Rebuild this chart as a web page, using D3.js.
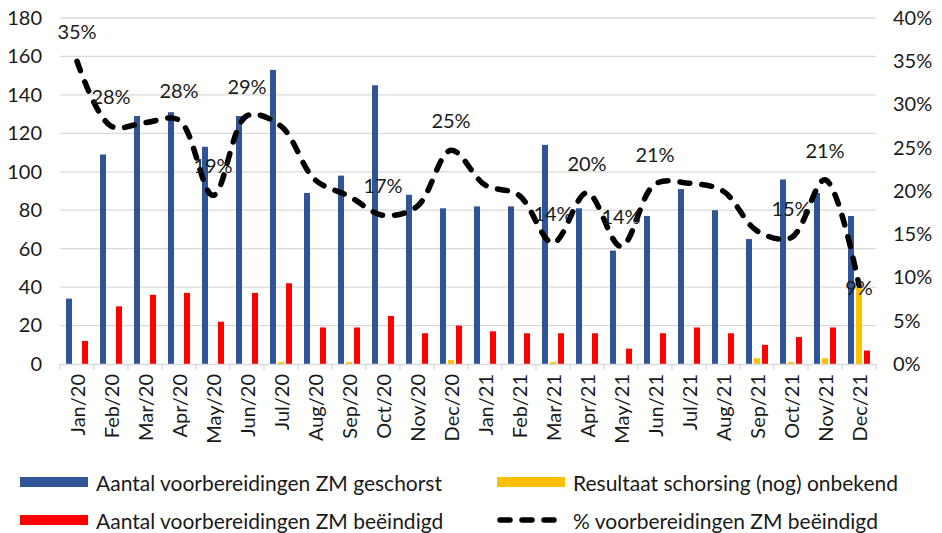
<!DOCTYPE html>
<html>
<head>
<meta charset="utf-8">
<script src="https://cdn.jsdelivr.net/npm/d3@7"></script>
<style>
  html, body { margin: 0; padding: 0; background: #fff; }
  svg { display: block; font-family: Lato, "Open Sans", sans-serif; }
</style>
</head>
<body>
<svg id="chart" width="942" height="533"></svg>
<script>
const categories = ["Jan/20","Feb/20","Mar/20","Apr/20","May/20","Jun/20","Jul/20","Aug/20","Sep/20","Oct/20","Nov/20","Dec/20",
  "Jan/21","Feb/21","Mar/21","Apr/21","May/21","Jun/21","Jul/21","Aug/21","Sep/21","Oct/21","Nov/21","Dec/21"];
const geschorst = [34,109,129,131,113,129,153,89,98,145,88,81,82,82,114,81,59,77,91,80,65,96,89,77];
const onbekend  = [0,0,0,0,0,0,1,0,1,0,0,2,0,0,1,0,0,0,0,0,3,1,3,40];
const beeindigd = [12,30,36,37,22,37,42,19,19,25,16,20,17,16,16,16,8,16,19,16,10,14,19,7];
const pctBeeindigd = [0.35,0.275,0.279,0.282,0.195,0.287,0.275,0.213,0.194,0.172,0.182,0.247,
  0.207,0.195,0.14,0.198,0.136,0.208,0.209,0.20,0.154,0.146,0.213,0.091];
const pctLabels = ["35%","28%","","28%","19%","29%","","","","17%","","25%",
  "","","14%","20%","14%","21%","","","","15%","21%","9%"];
const leftTicks = [0,20,40,60,80,100,120,140,160,180];
const rightTicks = [0,0.05,0.10,0.15,0.20,0.25,0.30,0.35,0.40];
const seriesNames = ["Aantal voorbereidingen ZM geschorst","Resultaat schorsing (nog) onbekend",
  "Aantal voorbereidingen ZM beëindigd","% voorbereidingen ZM beëindigd"];

const colors = { geschorst: "#2F5597", onbekend: "#FFC000", beeindigd: "#FF0000" };

const svg = d3.select("#chart");
const plot = { left: 60, right: 876, top: 18, bottom: 364 };

const x = d3.scaleBand().domain(categories).range([plot.left, plot.right]).padding(0);
const x1 = d3.scaleBand().domain(["geschorst","onbekend","beeindigd"]).range([6, 28]).paddingInner(0.25).paddingOuter(0);
const y = d3.scaleLinear().domain([0, 180]).range([plot.bottom, plot.top]);
const y2 = d3.scaleLinear().domain([0, 0.40]).range([plot.bottom, plot.top]);

// gridlines
svg.append("g").selectAll("line").data(leftTicks.filter(d => d > 0)).join("line")
  .attr("x1", plot.left).attr("x2", plot.right)
  .attr("y1", d => y(d)).attr("y2", d => y(d))
  .attr("stroke", "#d9d9d9").attr("stroke-width", 1.3);

// left axis
const leftAxis = svg.append("g").attr("transform", `translate(${plot.left},0)`)
  .call(d3.axisLeft(y).tickValues(leftTicks).tickSize(0).tickPadding(18));
leftAxis.select(".domain").remove();
leftAxis.selectAll("text").attr("font-size", 20).attr("fill", "#1a1a1a")
  .attr("font-family", "Lato, sans-serif");

// right axis
const rightAxis = svg.append("g").attr("transform", `translate(${plot.right},0)`)
  .call(d3.axisRight(y2).tickValues(rightTicks).tickSize(0).tickPadding(17).tickFormat(d3.format(".0%")));
rightAxis.select(".domain").remove();
rightAxis.selectAll("text").attr("font-size", 20).attr("fill", "#1a1a1a")
  .attr("font-family", "Lato, sans-serif");

// bars
const keys = ["geschorst","onbekend","beeindigd"];
const seriesData = { geschorst, onbekend, beeindigd };
keys.forEach(k => {
  svg.append("g").selectAll("rect").data(categories).join("rect")
    .attr("x", (c) => x(c) + x1(k))
    .attr("width", x1.bandwidth())
    .attr("y", (c, i) => y(seriesData[k][i]))
    .attr("height", (c, i) => y(0) - y(seriesData[k][i]))
    .attr("fill", colors[k]);
});

// x axis
const xAxis = svg.append("g").attr("transform", `translate(0,${plot.bottom})`)
  .call(d3.axisBottom(x).tickSize(0).tickPadding(0));
xAxis.select(".domain").attr("stroke", "#d9d9d9").attr("stroke-width", 1.3);
xAxis.selectAll(".tick text")
  .attr("transform", "rotate(-90)")
  .attr("text-anchor", "end")
  .attr("dominant-baseline", "central")
  .attr("x", -10).attr("y", 0)
  .attr("dy", null)
  .attr("font-size", 20).attr("fill", "#1a1a1a").attr("font-family", "Lato, sans-serif");
// boundary tick marks
svg.append("g").selectAll("line").data(d3.range(categories.length + 1)).join("line")
  .attr("x1", i => plot.left + i * x.step()).attr("x2", i => plot.left + i * x.step())
  .attr("y1", plot.bottom).attr("y2", plot.bottom + 6)
  .attr("stroke", "#d9d9d9").attr("stroke-width", 1.3);

// line
const line = d3.line()
  .x((d, i) => x(categories[i]) + x.bandwidth() / 2)
  .y(d => y2(d))
  .curve(d3.curveCatmullRom.alpha(0.5));
svg.append("path").datum(pctBeeindigd)
  .attr("d", line)
  .attr("fill", "none").attr("stroke", "#000")
  .attr("stroke-width", 5.5).attr("stroke-linecap", "round")
  .attr("stroke-dasharray", "10,12");

// data labels
const centered = new Set(["Dec/21"]);
svg.append("g").selectAll("text").data(categories.map((c, i) => ({ c, i })).filter(d => pctLabels[d.i] !== ""))
  .join("text")
  .attr("x", d => x(d.c) + x.bandwidth() / 2)
  .attr("y", d => y2(pctBeeindigd[d.i]) - (centered.has(d.c) ? -2 : 30))
  .attr("text-anchor", "middle").attr("dominant-baseline", "central")
  .attr("font-size", 20).attr("fill", "#1a1a1a")
  .text(d => pctLabels[d.i]);

// legend
const legend = svg.append("g").attr("font-size", 21).attr("fill", "#1a1a1a");
const legItems = [
  { name: seriesNames[0], type: "rect", color: colors.geschorst, sx: 20, tx: 96, cy: 482 },
  { name: seriesNames[1], type: "rect", color: colors.onbekend, sx: 497, tx: 573, cy: 482 },
  { name: seriesNames[2], type: "rect", color: colors.beeindigd, sx: 20, tx: 96, cy: 520 },
  { name: seriesNames[3], type: "line", color: "#000", sx: 497, tx: 573, cy: 520 }
];
legItems.forEach(it => {
  if (it.type === "rect") {
    legend.append("rect").attr("x", it.sx).attr("y", it.cy - 5).attr("width", 68).attr("height", 10).attr("fill", it.color);
  } else {
    legend.append("line").attr("x1", it.sx + 3).attr("x2", it.sx + 63).attr("y1", it.cy).attr("y2", it.cy)
      .attr("stroke", it.color).attr("stroke-width", 5.5).attr("stroke-linecap", "round").attr("stroke-dasharray", "10,12");
  }
  legend.append("text").attr("x", it.tx).attr("y", it.cy).attr("dominant-baseline", "central").text(it.name);
});
</script>
</body>
</html>
